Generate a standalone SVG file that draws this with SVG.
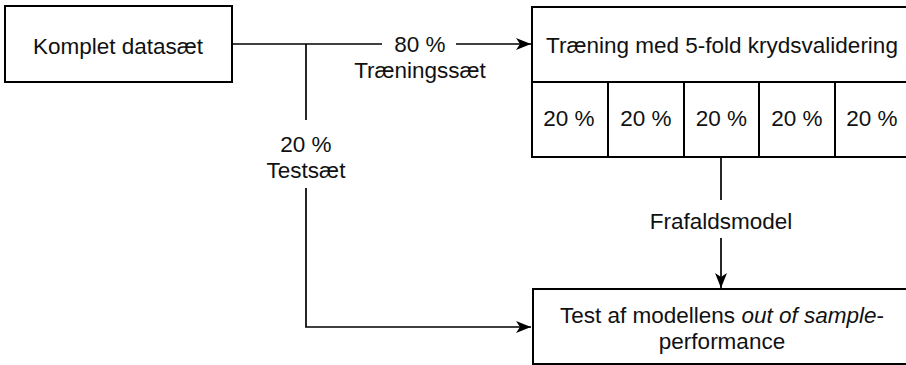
<svg xmlns="http://www.w3.org/2000/svg" width="906" height="365" viewBox="0 0 906 365">
<style>
.box{fill:#fff;stroke:#000;stroke-width:2}
.ln{fill:none;stroke:#000;stroke-width:1.7}
text{font-family:"Liberation Sans",Arial,sans-serif;font-size:22.5px;fill:#111;text-anchor:middle}
</style>
<defs>
<marker id="ar" markerWidth="16" markerHeight="12" refX="15" refY="6" orient="auto" markerUnits="userSpaceOnUse">
<path d="M0,0 L15,6 L0,12 L4,6 Z" fill="#000"/>
</marker>
</defs>
<rect width="906" height="365" fill="#fff"/>
<g id="connectors">
<path class="ln" d="M232,44 H382"/>
<path class="ln" d="M456,44 H531" marker-end="url(#ar)"/>
<path class="ln" d="M306,44 V120"/>
<path class="ln" d="M306,188 V327 H531" marker-end="url(#ar)"/>
<path class="ln" d="M721,157 V200"/>
<path class="ln" d="M721,238 V288" marker-end="url(#ar)"/>
<text x="420" y="52">80 %</text>
<text x="420" y="78">Træningssæt</text>
<text x="306" y="152">20 %</text>
<text x="306" y="178">Testsæt</text>
<text x="721" y="229">Frafaldsmodel</text>
</g>
<g id="komplet">
<rect class="box" x="5" y="6" width="227" height="76"/>
<text x="118" y="54">Komplet datasæt</text>
</g>
<g id="traening">
<rect class="box" x="532" y="7" width="380" height="75"/>
<text x="722" y="53">Træning med 5-fold krydsvalidering</text>
</g>
<g id="fold1"><rect class="box" x="532" y="82" width="76" height="75"/><text x="569" y="126">20 %</text></g>
<g id="fold2"><rect class="box" x="608" y="82" width="76" height="75"/><text x="646" y="126">20 %</text></g>
<g id="fold3"><rect class="box" x="684" y="82" width="75" height="75"/><text x="721.5" y="126">20 %</text></g>
<g id="fold4"><rect class="box" x="759" y="82" width="76" height="75"/><text x="797" y="126">20 %</text></g>
<g id="fold5"><rect class="box" x="835" y="82" width="77" height="75"/><text x="872" y="126">20 %</text></g>
<g id="test">
<rect class="box" x="533" y="289" width="379" height="75"/>
<text x="722" y="323">Test af modellens <tspan font-style="italic">out of sample</tspan>-</text>
<text x="722" y="349">performance</text>
</g>
</svg>
